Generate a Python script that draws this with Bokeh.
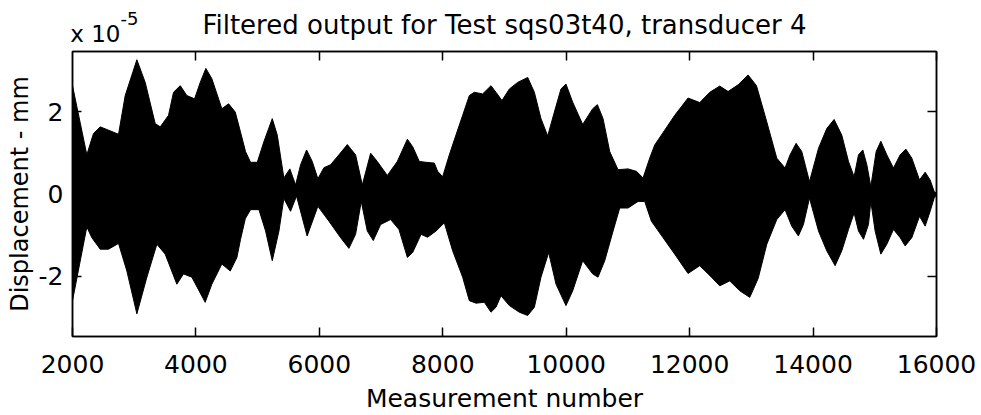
from bokeh.plotting import figure
from bokeh.models import FixedTicker, LinearAxis, Range1d, Label
from bokeh.embed import file_html
from bokeh.resources import INLINE

# ---- data (displacement in units of 1e-5 mm) ----
upper_x = [2000, 2232, 2340, 2449, 2584, 2746, 2854, 3043, 3178, 3340, 3422, 3556, 3637, 3746,
           3853, 3978, 4070, 4161, 4258, 4420, 4529, 4637, 4723, 4804, 4885, 4994, 5101, 5237,
           5318, 5425, 5522, 5615, 5696, 5793, 5885, 5976, 6074, 6182, 6317, 6453, 6587, 6696,
           6831, 6939, 7101, 7263, 7426, 7512, 7620, 7727, 7863, 7917, 7998, 8106, 8213, 8322,
           8430, 8511, 8646, 8781, 8862, 8959, 9079, 9213, 9376, 9484, 9591, 9700, 9808, 9915,
           9996, 10105, 10267, 10429, 10505, 10597, 10705, 10840, 11002, 11138, 11245, 11353,
           11434, 11596, 11758, 11974, 12164, 12326, 12488, 12623, 12785, 12947, 13083, 13250,
           13412, 13546, 13627, 13725, 13817, 13942, 14088, 14222, 14341, 14465, 14574, 14665,
           14736, 14806, 14871, 14936, 15022, 15098, 15195, 15303, 15411, 15503, 15600, 15725,
           15816, 15897, 15962, 16000]
upper_y = [2.63, 0.95, 1.47, 1.63, 1.55, 1.45, 2.39, 3.26, 2.71, 1.71, 1.63, 1.91, 2.47, 2.63,
           2.39, 2.31, 2.71, 3.05, 2.80, 2.07, 2.19, 1.99, 1.50, 1.03, 0.77, 0.77, 1.27, 1.83,
           1.43, 0.39, 0.61, 0.22, 0.71, 1.07, 0.79, 0.37, 0.64, 0.71, 0.95, 1.20, 0.95, 0.22,
           0.99, 0.79, 0.45, 0.79, 1.33, 1.15, 0.79, 0.77, 0.75, 0.55, 0.42, 0.95, 1.43, 1.91,
           2.39, 2.47, 2.43, 2.63, 2.47, 2.27, 2.55, 2.71, 2.83, 2.47, 1.83, 1.41, 1.99, 2.55,
           2.67, 2.23, 1.69, 2.07, 2.17, 1.83, 1.03, 0.59, 0.61, 0.55, 0.39, 0.87,
           1.19, 1.55, 1.91, 2.33, 2.22, 2.47, 2.62, 2.49, 2.65, 2.89, 2.63, 1.75,
           0.87, 0.63, 0.95, 1.23, 1.03, 0.30, 1.11, 1.59, 1.81, 1.43, 0.79, 0.42,
           0.95, 1.07, 0.71, 0.18, 1.03, 1.28, 0.95, 0.63, 0.95, 1.09, 0.87, 0.34,
           0.53, 0.34, 0.06, 0.02]

lower_x = [2000, 2232, 2313, 2449, 2584, 2746, 2881, 3043, 3205, 3367, 3502, 3691, 3799, 3934,
           4150, 4258, 4420, 4556, 4664, 4723, 4800, 4885, 5021, 5129, 5237, 5345, 5425, 5533,
           5630, 5802, 5976, 6155, 6344, 6479, 6587, 6679, 6777, 6874, 6993, 7155, 7290, 7426,
           7512, 7648, 7754, 7890, 8025, 8160, 8322, 8430, 8538, 8673, 8781, 8862, 8943, 9079,
           9240, 9376, 9484, 9591, 9716, 9835, 9996, 10105, 10267, 10429, 10515, 10624, 10759,
           10867, 11002, 11164, 11272, 11380, 11569, 11758, 11974, 12164, 12353, 12488, 12650,
           12812, 12974, 13110, 13250, 13412, 13546, 13654, 13762, 13844, 13942, 14088, 14222,
           14357, 14465, 14574, 14665, 14736, 14817, 14898, 14936, 15006, 15098, 15195, 15303,
           15411, 15492, 15600, 15725, 15816, 15897, 15962, 16000]
lower_y = [-2.59, -0.80, -1.06, -1.34, -1.34, -1.20, -1.87, -2.91, -2.02, -1.22, -1.46, -2.19,
           -1.94, -2.02, -2.63, -2.19, -1.70, -1.87, -1.54, -1.10, -0.60, -0.38, -0.38, -0.90,
           -1.62, -0.90, -0.11, -0.42, -0.05, -1.02, -0.30, -0.66, -1.06, -1.32, -0.98, -0.18,
           -0.90, -1.13, -0.74, -0.62, -0.86, -1.54, -1.42, -0.98, -1.05, -0.90, -0.70, -1.38,
           -2.02, -2.59, -2.65, -2.63, -2.87, -2.75, -2.47, -2.71, -2.87, -2.95, -2.75, -2.02,
           -1.42, -2.19, -2.71, -2.35, -1.62, -1.94, -2.02, -1.62, -0.90, -0.34, -0.34, -0.18,
           -0.18, -0.66, -1.06, -1.46, -1.93, -1.74, -2.02, -2.23, -2.11, -2.35, -2.51, -2.05,
           -1.22, -0.62, -0.38, -0.78, -1.02, -0.74, -0.10, -0.90, -1.38, -1.74, -1.38, -0.86,
           -0.46, -0.90, -1.10, -0.74, -0.18, -0.90, -1.46, -1.22, -0.86, -1.06, -1.26, -1.06,
           -0.54, -0.78, -0.42, -0.10, -0.02]

x_ticks = [2000, 4000, 6000, 8000, 10000, 12000, 14000, 16000]
y_ticks = [-2, 0, 2]
y_tick_labels = {-2: "-2", 0: "0", 2: "2"}
title_text = "Filtered output for Test sqs03t40, transducer 4"
exponent_base = "x 10"
exponent_power = "-5"

FONT = "DejaVu Sans"
X0, X1, Y0, Y1 = 2000, 16000, -3.46, 3.46
EXP_ANCHOR = 2370   # where the "x 10" note is centred along the top edge

p = figure(width=981, height=415, output_backend="svg", toolbar_location=None,
           x_range=Range1d(X0, X1), y_range=Range1d(Y0, Y1),
           min_border_left=72, min_border_right=45, min_border_top=51, min_border_bottom=77,
           background_fill_color="white", border_fill_color="white")

p.xgrid.visible = False
p.ygrid.visible = False
p.outline_line_color = "black"
p.outline_line_width = 1.5

# envelope fill of the filtered signal
xs = upper_x + lower_x[::-1]
ys = upper_y + lower_y[::-1]
p.patch(xs, ys, fill_color="black", line_color="black", line_width=1)

def style_axis(ax, label_size="25px", title_size="25px"):
    ax.major_tick_in = 9
    ax.major_tick_out = 0
    ax.minor_tick_in = 9
    ax.minor_tick_out = 0
    ax.axis_line_color = "black"
    ax.axis_line_width = 1.5
    ax.major_tick_line_color = "black"
    ax.major_tick_line_width = 1.5
    ax.minor_tick_line_color = "black"
    ax.minor_tick_line_width = 1.5
    ax.major_label_text_font = FONT
    ax.major_label_text_font_size = label_size
    ax.major_label_text_color = "black"
    ax.axis_label_text_font = FONT
    ax.axis_label_text_font_size = title_size
    ax.axis_label_text_font_style = "normal"
    ax.axis_label_text_color = "black"

xa = p.xaxis[0]
xa.ticker = FixedTicker(ticks=x_ticks, minor_ticks=[])
xa.axis_label = "Measurement number"
style_axis(xa)
xa.major_label_standoff = 18
xa.axis_label_standoff = 8

ya = p.yaxis[0]
ya.ticker = FixedTicker(ticks=y_ticks, minor_ticks=[])
ya.major_label_overrides = y_tick_labels
ya.axis_label = "Displacement - mm"
style_axis(ya, title_size="24px")
ya.major_label_standoff = 9
ya.axis_label_standoff = 2

# top side of the box: tick marks, the "x 10" scale note and the chart title
top = LinearAxis(ticker=FixedTicker(ticks=[EXP_ANCHOR], minor_ticks=x_ticks[1:]))
style_axis(top, label_size="23px", title_size="26px")
top.major_tick_in = 0
top.major_label_overrides = {EXP_ANCHOR: exponent_base}
top.major_label_standoff = 5
top.axis_label = title_text
top.axis_label_standoff = -22
p.add_layout(top, "above")

# right side of the box: tick marks only
right = LinearAxis(ticker=FixedTicker(ticks=[], minor_ticks=y_ticks))
style_axis(right)
p.add_layout(right, "right")

# superscript of the scale note (kept in a side panel so it is not clipped)
p.add_layout(Label(x=X0, y=Y1, x_offset=48, y_offset=33, text=exponent_power,
                   text_font=FONT, text_font_size="18px", text_color="black",
                   text_baseline="alphabetic"), "right")

open("out.html", "w").write(file_html(p, INLINE))
